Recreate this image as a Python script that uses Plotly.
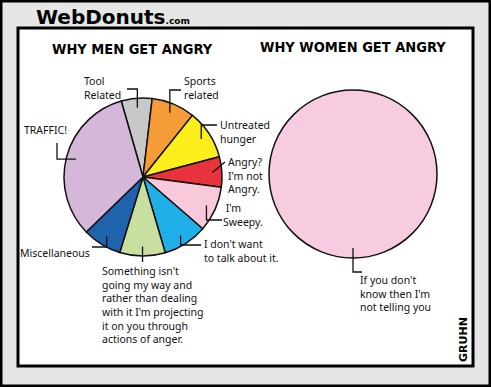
import math
import plotly.graph_objects as go

W, H = 491, 387

# ---------------- data ----------------
men_labels = ["Tool Related", "Sports related", "Untreated hunger",
              "Angry? I'm not Angry.", "I'm Sweepy.", "I don't want to talk about it.",
              "Something isn't going my way", "Miscellaneous", "TRAFFIC!"]
men_values = [6.3, 8.9, 10.1, 6.2, 9.3, 9.1, 9.3, 8.0, 32.8]
men_texts = ["Tool<br>Related", "Sports<br>related", "Untreated<br>hunger",
             "Angry?<br>I'm not<br>Angry.", " I'm<br>Sweepy.", "I don't want<br>to talk about it.",
             "Something isn't<br>going my way and<br>rather than dealing<br>with it I'm projecting<br>it on you through<br>actions of anger.",
             "Miscellaneous", "TRAFFIC!"]
men_colors = ["#c8c8c8", "#f59c38", "#fcee1a", "#e8333c", "#f8c9da",
              "#1fb0ea", "#c9dfa0", "#1f63ad", "#d5b7da"]

women_labels = ["If you don't know then I'm not telling you"]
women_values = [100]
women_texts = ["If you don't<br>know then I'm<br>not telling you"]
women_colors = ["#f7cce0"]

# ---------------- helpers ----------------
def X(px):
    return px / W

def Y(py):
    return 1 - py / H

MEN_C, MEN_R, MEN_ROT = (143, 177), 79, 344
WOM_C, WOM_R, WOM_ROT = (353, 174), 84, 0

def domain(c, r):
    return dict(x=[X(c[0] - r), X(c[0] + r)], y=[Y(c[1] + r), Y(c[1] - r)])

def anchors(values, c, r, rot, f=0.88):
    tot = sum(values)
    cum = 0
    pts = []
    for v in values:
        a = math.radians(rot + (cum + v / 2) / tot * 360)
        pts.append((c[0] + f * r * math.sin(a), c[1] - f * r * math.cos(a)))
        cum += v
    return pts

hand_font = dict(family="Noto Sans, DejaVu Sans", size=10.5, color="#111")

fig = go.Figure()
fig.add_trace(go.Pie(labels=men_labels, values=men_values, sort=False,
                     direction="clockwise", rotation=MEN_ROT,
                     marker=dict(colors=men_colors, line=dict(color="#111", width=1.5)),
                     textinfo="none", hoverinfo="label+percent", showlegend=False,
                     domain=domain(MEN_C, MEN_R)))
fig.add_trace(go.Pie(labels=women_labels, values=women_values, sort=False,
                     direction="clockwise", rotation=WOM_ROT,
                     marker=dict(colors=women_colors, line=dict(color="#111", width=1.5)),
                     textinfo="none", hoverinfo="label+percent", showlegend=False,
                     domain=domain(WOM_C, WOM_R)))

shapes = []
# outer background frame and panel
shapes.append(dict(type="rect", xref="paper", yref="paper", x0=0, x1=1, y0=0, y1=1,
                   line=dict(color="#000", width=5), fillcolor="rgba(0,0,0,0)", layer="below"))
shapes.append(dict(type="rect", xref="paper", yref="paper", x0=X(18), x1=X(473), y0=Y(366), y1=Y(28),
                   line=dict(color="#000", width=3), fillcolor="#ffffff", layer="below"))

# leader lines: (mode, end point)
men_leaders = [("v", (127, 89)), ("v", (181, 90)), ("v", (217, 125)), ("s", (225, 162)),
               ("v", (222, 220)), ("v", (201, 245)), ("v", (None, 262)), ("v", (92, 247)),
               ("h", (57, 143))]
women_leaders = [("v", (362, 272))]

def leader_path(a, mode, end):
    ax, ay = a
    ex, ey = end
    if ex is None:
        ex = ax
    if mode == "v":
        pts = [(ax, ay), (ax, ey), (ex, ey)]
    elif mode == "h":
        pts = [(ax, ay), (ex, ay), (ex, ey)]
    else:
        pts = [(ax, ay), (ex, ey)]
    return "M " + " L ".join(f"{X(p[0]):.5f},{Y(p[1]):.5f}" for p in pts)

for a, (mode, end) in zip(anchors(men_values, MEN_C, MEN_R, MEN_ROT), men_leaders):
    shapes.append(dict(type="path", xref="paper", yref="paper", path=leader_path(a, mode, end),
                       line=dict(color="#111", width=1.3)))
for a, (mode, end) in zip(anchors(women_values, WOM_C, WOM_R, WOM_ROT), women_leaders):
    shapes.append(dict(type="path", xref="paper", yref="paper", path=leader_path(a, mode, end),
                       line=dict(color="#111", width=1.3)))

# label placement: (x, y, xanchor, yanchor, align)
men_label_pos = [(102, 88, "center", "middle", "left"),
                 (182, 88, "left", "middle", "left"),
                 (218, 132, "left", "middle", "left"),
                 (226, 175, "left", "middle", "left"),
                 (221, 215, "left", "middle", "left"),
                 (202, 251, "left", "middle", "left"),
                 (152, 262, "center", "top", "left"),
                 (92, 253, "right", "middle", "left"),
                 (22, 130, "left", "middle", "left")]
women_label_pos = [(395, 293, "center", "middle", "left")]

annotations = []
for t, (x, y, xa, ya, al) in zip(men_texts + women_texts, men_label_pos + women_label_pos):
    annotations.append(dict(text=t, x=X(x), y=Y(y), xref="paper", yref="paper",
                            xanchor=xa, yanchor=ya, align=al, showarrow=False,
                            font=hand_font))

title_font = dict(family="DejaVu Sans Condensed, Liberation Sans Narrow", size=14.5, color="#000")
annotations.append(dict(text="<b>WHY MEN GET ANGRY</b>", x=X(132), y=Y(49), xref="paper", yref="paper",
                        xanchor="center", yanchor="middle", showarrow=False, font=title_font))
annotations.append(dict(text="<b>WHY WOMEN GET ANGRY</b>", x=X(353), y=Y(47), xref="paper", yref="paper",
                        xanchor="center", yanchor="middle", showarrow=False, font=title_font))
annotations.append(dict(text="<b>WebDonuts</b><span style='font-size:9px'><b>.com</b></span>",
                        x=X(34), y=Y(17), xref="paper", yref="paper",
                        xanchor="left", yanchor="middle", showarrow=False,
                        font=dict(family="DejaVu Sans", size=20, color="#000")))
annotations.append(dict(text="<b>GRUHN</b>", x=X(463), y=Y(340), xref="paper", yref="paper",
                        xanchor="center", yanchor="middle", textangle=-90, showarrow=False,
                        font=dict(family="DejaVu Sans", size=11, color="#000")))

fig.update_layout(width=W, height=H, margin=dict(l=0, r=0, t=0, b=0),
                  paper_bgcolor="#e6e6e6", plot_bgcolor="#e6e6e6",
                  shapes=shapes, annotations=annotations, showlegend=False)

fig.write_html("out.html", include_plotlyjs=True, config={"displayModeBar": False})
